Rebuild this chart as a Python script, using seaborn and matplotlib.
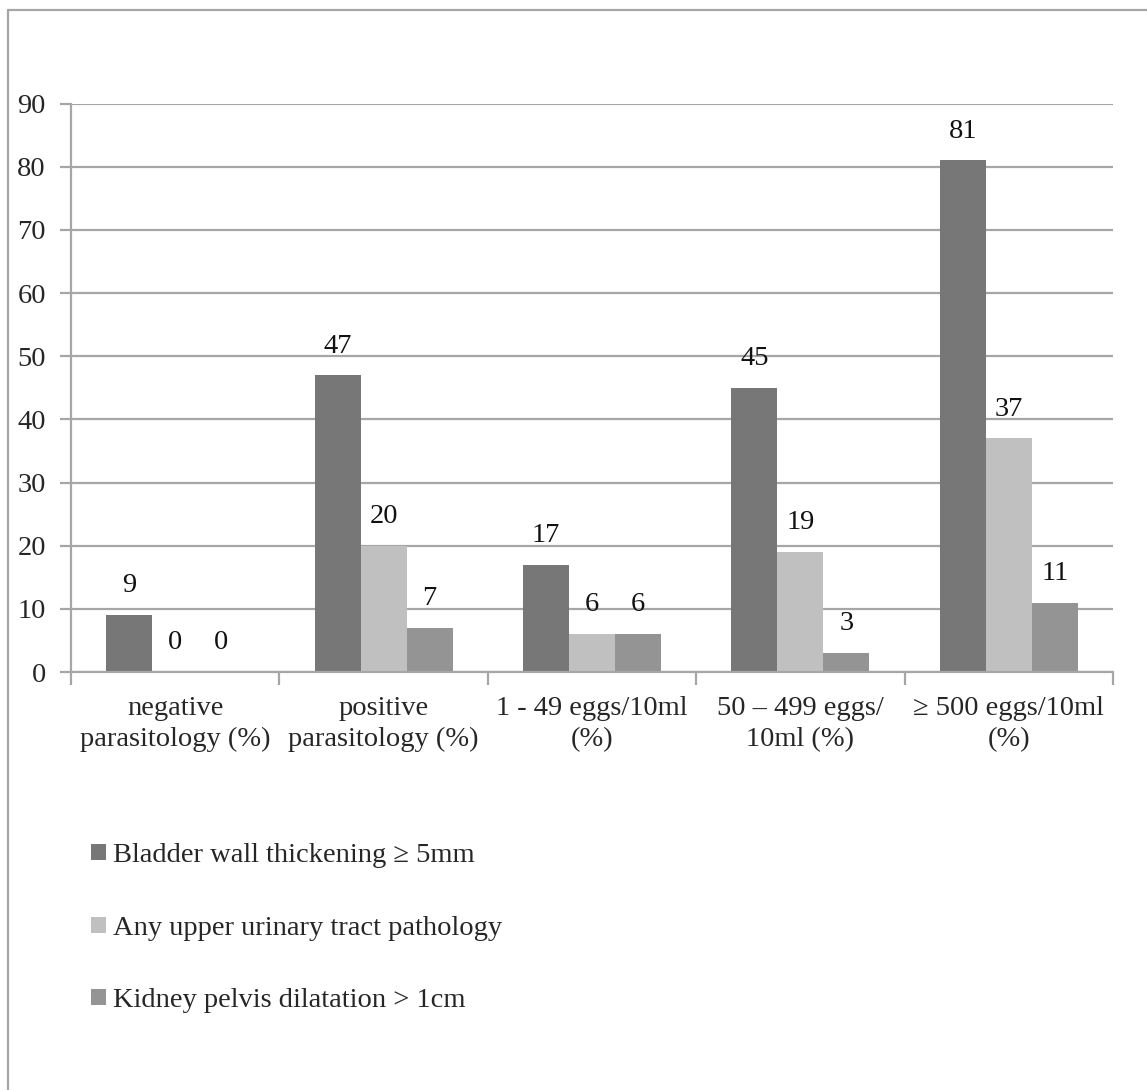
import matplotlib
matplotlib.use("Agg")
import matplotlib.pyplot as plt
import seaborn as sns
import pandas as pd
from matplotlib.lines import Line2D

categories = ["negative\nparasitology (%)", "positive\nparasitology (%)",
              "1 - 49 eggs/10ml\n(%)", "50 – 499 eggs/\n10ml (%)", "≥ 500 eggs/10ml\n(%)"]
series_names = ["Bladder wall thickening ≥ 5mm",
                "Any upper urinary tract pathology",
                "Kidney pelvis dilatation > 1cm"]
bladder = [9, 47, 17, 45, 81]
upper = [0, 20, 6, 19, 37]
kidney = [0, 7, 6, 3, 11]
colors = ["#777777", "#c0c0c0", "#949494"]

rows = []
for name, vals in zip(series_names, [bladder, upper, kidney]):
    for c, v in zip(categories, vals):
        rows.append({"cat": c, "series": name, "value": v})
df = pd.DataFrame(rows)

sns.set_style("white")
plt.rcParams["font.family"] = ["Liberation Serif", "DejaVu Serif"]

W, H = 1147, 1090
fig = plt.figure(figsize=(W / 100, H / 100), dpi=100)
ax = fig.add_axes([71 / W, 1 - 672 / H, (1113 - 71) / W, (672 - 103.6) / H])

sns.barplot(data=df, x="cat", y="value", hue="series", palette=colors,
            width=0.662, gap=0, saturation=1, ax=ax, legend=True,
            linewidth=0, errorbar=None)

fs = 20.5
for cont in ax.containers:
    ax.bar_label(cont, padding=12, fontsize=fs, color="#111111")

ax.set_ylim(0, 90)
ax.set_xlim(-0.5, 4.5)
ax.set_yticks(range(0, 91, 10))
ax.yaxis.grid(True, color="#a6a6a6", linewidth=1.6)
ax.set_axisbelow(True)
ax.set_xlabel("")
ax.set_ylabel("")
for s in ["top", "right"]:
    ax.spines[s].set_visible(False)
for s in ["left", "bottom"]:
    ax.spines[s].set_color("#a6a6a6")
    ax.spines[s].set_linewidth(1.6)
ax.tick_params(axis="y", which="major", length=8, width=1.6, color="#a6a6a6",
               labelsize=fs, pad=10, left=True)
ax.tick_params(axis="x", which="major", length=0, labelsize=fs, pad=17)
ax.set_xticks([-0.5, 0.5, 1.5, 2.5, 3.5, 4.5], minor=True)
ax.tick_params(axis="x", which="minor", length=9, width=1.6, color="#a6a6a6", bottom=True)
for lab in ax.get_xticklabels():
    lab.set_linespacing(1.35)

handles, labels = ax.get_legend_handles_labels()
ax.legend_.remove()
fig.legend(handles, labels, loc="upper left", bbox_to_anchor=(80 / W, 1 - 832 / H),
           frameon=False, fontsize=fs, handlelength=0.5, handleheight=0.5,
           handletextpad=0.26, labelspacing=1.67, borderaxespad=0)

# outer frame (top and left edges visible)
fig.add_artist(Line2D([8 / W, 1.0], [1 - 10 / H, 1 - 10 / H], transform=fig.transFigure,
                      color="#a6a6a6", linewidth=1.6))
fig.add_artist(Line2D([8 / W, 8 / W], [1 - 10 / H, 0], transform=fig.transFigure,
                      color="#a6a6a6", linewidth=1.6))

fig.savefig("out.png", dpi=100, facecolor="white")
